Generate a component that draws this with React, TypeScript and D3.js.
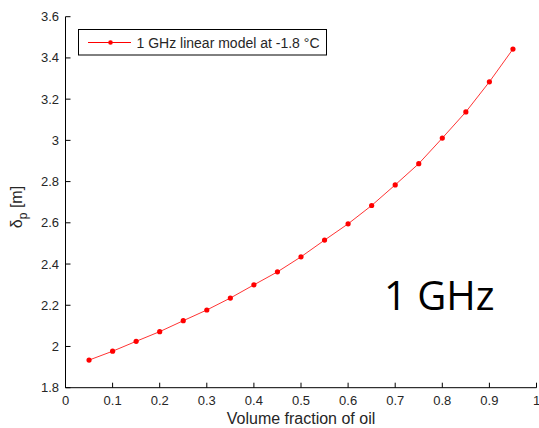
import React from "react";
import * as d3 from "d3";

const fractions = [0.05, 0.1, 0.15, 0.2, 0.25, 0.3, 0.35, 0.4, 0.45, 0.5, 0.55, 0.6, 0.65, 0.7, 0.75, 0.8, 0.85, 0.9, 0.95];
const depth = [1.934, 1.977, 2.025, 2.072, 2.125, 2.177, 2.235, 2.299, 2.362, 2.435, 2.516, 2.595, 2.684, 2.784, 2.887, 3.011, 3.138, 3.284, 3.443];
const xTicks = [0, 0.1, 0.2, 0.3, 0.4, 0.5, 0.6, 0.7, 0.8, 0.9, 1];
const yTicks = [1.8, 2, 2.2, 2.4, 2.6, 2.8, 3, 3.2, 3.4, 3.6];
const legendLabel = "1 GHz linear model at -1.8 °C";
const xLabel = "Volume fraction of oil";
const bigLabel = "1 GHz";

const W = 539;
const H = 428;
const AX = "Liberation Sans, Arial, sans-serif";
const TXT = "#262626";

export default function App() {
  const x = d3.scaleLinear().domain([0, 1]).range([65.5, 536.5]);
  const y = d3.scaleLinear().domain([1.8, 3.6]).range([387.7, 16.7]);
  const line = d3
    .line<number>()
    .x((_, i) => x(fractions[i]))
    .y((d) => y(d));
  const fmt = (v: number) => (Number.isInteger(v) ? String(v) : String(+v.toFixed(1)));

  return (
    <svg
      width={W}
      height={H}
      style={{ position: "absolute", left: 0, top: 0, background: "#fff" }}
    >
      <rect x={0} y={0} width={W} height={H} fill="#fff" />
      {/* axes */}
      <line x1={x(0)} x2={x(1)} y1={y(1.8)} y2={y(1.8)} stroke="#000" strokeWidth={1} />
      <line x1={x(0)} x2={x(0)} y1={y(1.8)} y2={y(3.6)} stroke="#000" strokeWidth={1} />
      {xTicks.map((t) => (
        <g key={"x" + t}>
          <line x1={x(t)} x2={x(t)} y1={y(1.8)} y2={y(1.8) - 5} stroke="#000" />
          <text x={x(t)} y={405} textAnchor="middle" fontFamily={AX} fontSize={13} fill={TXT}>
            {fmt(t)}
          </text>
        </g>
      ))}
      {yTicks.map((t) => (
        <g key={"y" + t}>
          <line x1={x(0)} x2={x(0) + 5} y1={y(t)} y2={y(t)} stroke="#000" />
          <text x={59} y={y(t) + 4.5} textAnchor="end" fontFamily={AX} fontSize={13} fill={TXT}>
            {fmt(t)}
          </text>
        </g>
      ))}
      {/* labels */}
      <text x={x(0.5)} y={424} textAnchor="middle" fontFamily={AX} fontSize={16} fill={TXT}>
        {xLabel}
      </text>
      <text
        transform={`translate(22,207) rotate(-90)`}
        textAnchor="middle"
        fontFamily={AX}
        fontSize={16}
        fill={TXT}
      >
        δ
        <tspan fontSize={12} dy={5}>p</tspan>
        <tspan dy={-5}> [m]</tspan>
      </text>
      {/* series */}
      <path d={line(depth) || ""} fill="none" stroke="#ff0000" strokeWidth={1} strokeOpacity={0.8} />
      {depth.map((d, i) => (
        <circle key={i} cx={x(fractions[i])} cy={y(d)} r={2.6} fill="#ff0000" />
      ))}
      {/* legend */}
      <rect x={78.5} y={29.5} width={248} height={25.5} fill="#fff" stroke="#000" strokeWidth={1} />
      <line x1={88} x2={131} y1={42.5} y2={42.5} stroke="#ff0000" strokeWidth={1} />
      <circle cx={110.5} cy={42.5} r={2.3} fill="#ff0000" />
      <text x={136.5} y={47.5} fontFamily={AX} fontSize={14} fill={TXT}>
        {legendLabel}
      </text>
      {/* big annotation */}
      <text x={384} y={310} fontFamily="Open Sans, Noto Sans, sans-serif" fontSize={40} fill="#000">
        {bigLabel}
      </text>
    </svg>
  );
}
